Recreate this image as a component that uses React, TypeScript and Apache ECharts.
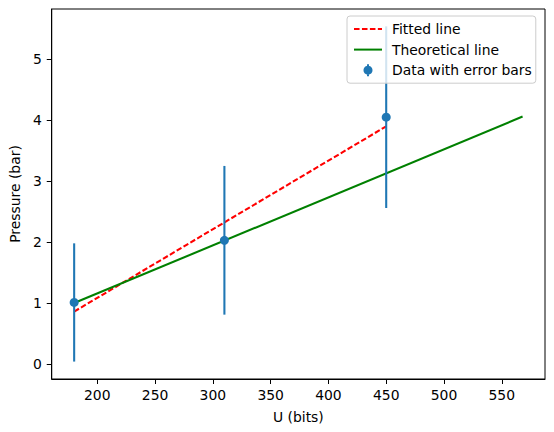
import React, { useEffect, useRef } from "react";
import * as echarts from "echarts";

const uBits = [180, 310, 450];
const pressure = [1.01, 2.03, 4.05];
const pressureErr = [0.97, 1.22, 1.49];
const fitX = [180, 450];
const fitY = [0.86, 3.9];
const theoX = [180, 568];
const theoY = [1.0, 4.06];
const xTicks = [200, 250, 300, 350, 400, 450, 500, 550];
const yTicks = [0, 1, 2, 3, 4, 5];

const FONT = "DejaVu Sans";
const FS = 13.9;

export default function App() {
  const ref = useRef<HTMLDivElement>(null);
  useEffect(() => {
    if (!ref.current) return;
    const chart = echarts.init(ref.current, null, { renderer: "svg" });
    const errData = uBits.map((x, i) => [x, pressure[i] - pressureErr[i], pressure[i] + pressureErr[i]]);
    const hiddenSymbol = { color: "rgba(0,0,0,0)", opacity: 0, borderWidth: 0 };
    chart.setOption({
      animation: false,
      backgroundColor: "#ffffff",
      textStyle: { fontFamily: FONT },
      grid: {
        left: 48,
        top: 9,
        width: 497,
        height: 370,
        show: true,
        borderColor: "#000",
        borderWidth: 1,
        backgroundColor: "transparent",
      },
      legend: {
        orient: "vertical",
        left: 347,
        top: 16,
        z: 20,
        zlevel: 0,
        padding: [6, 4, 6, 6],
        itemWidth: 28,
        itemHeight: 14,
        itemGap: 6.6,
        backgroundColor: "rgba(255,255,255,0.8)",
        borderColor: "#cccccc",
        borderWidth: 1,
        borderRadius: 3,
        textStyle: { fontFamily: FONT, fontSize: FS, color: "#000", padding: [0, 0, 0, 5] },
        data: [
          { name: "Fitted line", itemStyle: hiddenSymbol },
          { name: "Theoretical line", itemStyle: hiddenSymbol },
          {
            name: "Data with error bars",
            icon: "path://M6,-1L6,-1Z M5,0H7V12H5Z M6,1.5A4.5,4.5 0 1 1 5.99,1.5Z M6,13L6,13Z",
            itemStyle: { color: "#1f77b4" },
          },
        ],
      },
      xAxis: {
        type: "value",
        min: 160.6,
        max: 587.4,
        name: "U (bits)",
        nameLocation: "middle",
        nameGap: 31,
        nameTextStyle: { fontFamily: FONT, fontSize: FS, color: "#000" },
        axisLine: { show: true, onZero: false, lineStyle: { color: "#000", width: 1 } },
        axisTick: { show: true, length: 5, lineStyle: { color: "#000", width: 1 }, customValues: xTicks },
        axisLabel: { fontFamily: FONT, fontSize: FS, color: "#000", margin: 9, customValues: xTicks },
        splitLine: { show: false },
      },
      yAxis: {
        type: "value",
        min: -0.246,
        max: 5.825,
        name: "Pressure (bar)",
        nameLocation: "middle",
        nameRotate: 90,
        nameGap: 25,
        nameTextStyle: { fontFamily: FONT, fontSize: FS, color: "#000" },
        axisLine: { show: true, onZero: false, lineStyle: { color: "#000", width: 1 } },
        axisTick: { show: true, length: 5, lineStyle: { color: "#000", width: 1 }, customValues: yTicks },
        axisLabel: { fontFamily: FONT, fontSize: FS, color: "#000", margin: 10, customValues: yTicks },
        splitLine: { show: false },
      },
      series: [
        {
          name: "Fitted line",
          type: "line",
          data: fitX.map((x, i) => [x, fitY[i]]),
          symbol: "none",
          lineStyle: { color: "#ff0000", width: 2.08, type: [5.55, 2.4] },
          itemStyle: { color: "#ff0000" },
          z: 2,
        },
        {
          name: "Theoretical line",
          type: "line",
          data: theoX.map((x, i) => [x, theoY[i]]),
          symbol: "none",
          lineStyle: { color: "#008000", width: 2.08 },
          itemStyle: { color: "#008000" },
          z: 3,
        },
        {
          name: "errbars",
          type: "custom",
          data: errData,
          z: 4,
          renderItem: (params: any, api: any) => {
            const x = api.value(0);
            const p1 = api.coord([x, api.value(1)]);
            const p2 = api.coord([x, api.value(2)]);
            return {
              type: "line",
              shape: { x1: p1[0], y1: p1[1], x2: p2[0], y2: p2[1] },
              style: { stroke: "#1f77b4", lineWidth: 2.08 },
            };
          },
        },
        {
          name: "Data with error bars",
          type: "scatter",
          data: uBits.map((x, i) => [x, pressure[i]]),
          symbol: "circle",
          symbolSize: 9,
          itemStyle: { color: "#1f77b4", opacity: 1 },
          z: 5,
        },
      ],
    });
    return () => chart.dispose();
  }, []);
  return (
    <div
      ref={ref}
      style={{ position: "fixed", left: 0, top: 0, width: 554, height: 432 }}
    />
  );
}
